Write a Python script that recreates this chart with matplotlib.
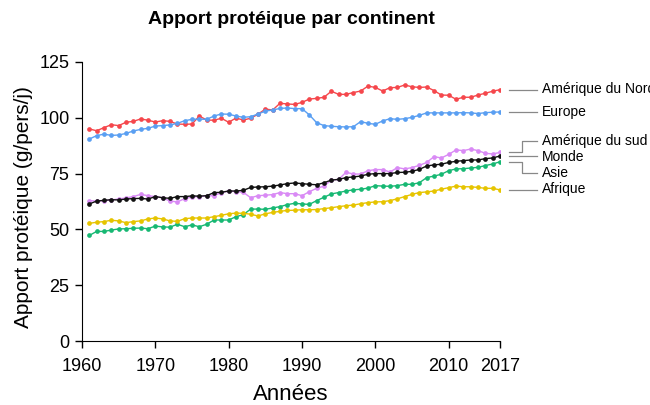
import numpy as np
import matplotlib.pyplot as plt

plt.rcParams['font.family'] = ['Liberation Sans', 'DejaVu Sans']

years = np.arange(1961, 2018)

amerique_nord = [95.0, 94.2, 95.6, 96.9, 96.5, 98.0, 98.4, 99.5, 98.9, 98.1,
                 98.7, 98.4, 97.2, 97.1, 97.2, 100.8, 99.0, 98.9, 99.8, 98.0,
                 99.9, 99.0, 99.8, 101.6, 103.9, 103.5, 106.5, 106.2, 106.0, 106.9,
                 108.4, 108.7, 109.2, 111.9, 110.5, 110.5, 111.3, 112.0, 114.2, 113.6,
                 112.0, 113.5, 113.6, 114.7, 113.9, 113.6, 113.8, 112.2, 110.2, 110.1,
                 108.3, 109.2, 109.2, 110.2, 111.0, 111.9, 112.6]

europe = [90.5, 92.0, 92.7, 92.1, 92.3, 93.0, 94.1, 94.8, 95.3, 96.3,
          96.5, 96.8, 97.5, 98.7, 99.3, 99.4, 99.3, 100.8, 101.7, 101.6,
          100.8, 100.2, 100.5, 101.7, 103.0, 103.5, 104.2, 104.4, 104.1, 104.1,
          101.3, 97.8, 96.5, 96.2, 96.0, 95.9, 96.0, 98.3, 97.5, 97.1,
          98.6, 99.6, 99.3, 99.6, 100.2, 101.1, 102.2, 102.2, 102.2, 102.2,
          102.2, 102.3, 102.2, 101.9, 102.3, 102.5, 102.6]

amerique_sud = [62.9, 62.7, 62.9, 63.2, 63.6, 64.1, 64.7, 65.7, 65.1, 64.7,
                64.1, 62.7, 62.3, 63.8, 64.5, 64.7, 65.0, 65.1, 66.5, 67.2,
                66.9, 66.6, 64.2, 65.1, 65.3, 65.6, 66.5, 66.0, 66.0, 65.1,
                66.9, 68.4, 69.4, 72.1, 72.4, 75.6, 74.8, 74.8, 76.3, 76.8,
                76.8, 75.7, 77.7, 77.1, 77.7, 78.7, 80.0, 82.6, 82.0, 83.6,
                85.6, 85.3, 86.0, 85.3, 84.1, 83.8, 84.5]

monde = [61.4, 62.7, 63.0, 63.3, 63.2, 63.6, 63.8, 63.9, 63.6, 64.7,
         64.2, 63.9, 64.7, 64.7, 65.0, 64.9, 65.1, 66.5, 66.6, 67.2,
         67.2, 67.5, 68.8, 69.0, 69.1, 69.4, 69.9, 70.5, 70.8, 70.5,
         70.2, 70.0, 70.9, 72.1, 72.4, 73.2, 73.5, 73.9, 74.7, 75.0,
         75.0, 75.0, 75.5, 75.6, 76.0, 76.9, 78.4, 78.9, 79.2, 80.0,
         80.5, 80.8, 81.1, 81.1, 81.7, 82.0, 82.9]

asie = [47.3, 49.1, 49.1, 49.7, 50.2, 50.3, 50.5, 50.6, 50.3, 51.5,
        51.1, 51.0, 52.3, 51.2, 52.0, 51.2, 52.3, 54.2, 54.2, 54.2,
        55.7, 56.6, 59.1, 59.1, 59.0, 59.6, 60.2, 61.1, 61.7, 61.4,
        61.2, 62.9, 64.4, 65.9, 66.5, 67.2, 67.7, 68.0, 68.5, 69.6,
        69.4, 69.3, 69.6, 70.2, 70.2, 70.9, 73.2, 73.9, 74.7, 76.3,
        77.1, 77.2, 77.5, 77.8, 78.6, 79.3, 80.3]

afrique = [52.7, 53.2, 53.5, 54.1, 53.8, 53.0, 53.5, 53.8, 54.7, 55.1,
           54.7, 53.8, 53.6, 54.8, 55.1, 55.1, 55.1, 55.7, 56.3, 57.0,
           57.3, 57.2, 56.8, 56.0, 57.0, 57.6, 58.1, 58.5, 58.6, 58.8,
           58.8, 58.9, 59.3, 59.7, 60.2, 60.6, 60.9, 61.5, 62.0, 62.3,
           62.4, 62.9, 63.7, 64.7, 65.7, 66.5, 66.8, 67.2, 68.0, 68.7,
           69.4, 69.1, 69.1, 68.8, 68.4, 68.4, 67.7]

names = ['Amérique du Nord', 'Europe', 'Amérique du sud', 'Monde', 'Asie', 'Afrique']
series = [amerique_nord, europe, amerique_sud, monde, asie, afrique]
colors = ['#f5474c', '#5a9ff2', '#d98af5', '#111111', '#17b873', '#e6c400']
# label heights on the right (layout only)
label_y = [112.9, 102.6, 89.6, 82.4, 75.3, 68.1]

fig = plt.figure(figsize=(6.5, 4.05), dpi=100)
ax = fig.add_axes([82 / 650, 1 - 341 / 405, 418 / 650, 279 / 405])

for vals, col in zip(series, colors):
    ax.plot(years, vals, color=col, lw=1, marker='o', ms=3.4, mew=0)

# leader lines + labels
for name, vals, col, ly in zip(names, series, colors, label_y):
    end = vals[-1]
    if abs(end - ly) < 1.0:
        ax.plot([2018.2, 2022.0], [end, end], color='#888888', lw=0.9, clip_on=False)
    else:
        ax.plot([2018.2, 2020.0, 2020.0, 2022.0], [end, end, ly, ly],
                color='#888888', lw=0.9, clip_on=False)
    ax.text(2022.7, ly, name, fontsize=10, va='center', ha='left', clip_on=False)

ax.set_xlim(1960, 2017)
ax.set_ylim(0, 125)
ax.set_xticks([1960, 1970, 1980, 1990, 2000, 2010, 2017])
ax.set_yticks([0, 25, 50, 75, 100, 125])
ax.spines['top'].set_visible(False)
ax.spines['right'].set_visible(False)
ax.tick_params(direction='out', length=5, width=1, labelsize=13)
ax.tick_params(axis='x', pad=7)
ax.tick_params(axis='y', pad=4)

ax.set_xlabel('Années', fontsize=16)
ax.xaxis.set_label_coords(0.5, -0.155)
ax.set_ylabel('Apport protéique (g/pers/j)', fontsize=15)
ax.yaxis.set_label_coords(-0.118, 0.48)

fig.text(ax.get_position().x0 + ax.get_position().width / 2, 1 - 20 / 405,
         'Apport protéique par continent', fontsize=14, fontweight='bold',
         ha='center', va='center')

fig.savefig('out.png', dpi=100)
